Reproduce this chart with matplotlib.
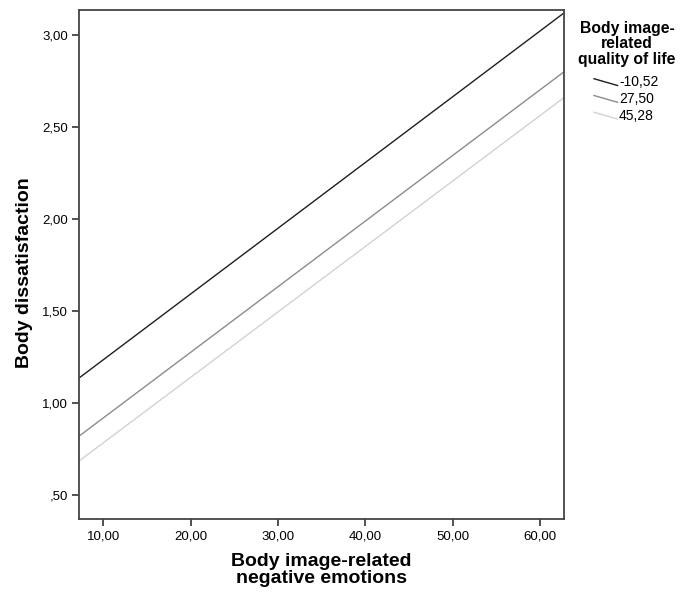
import numpy as np
import matplotlib.pyplot as plt
from matplotlib.lines import Line2D
from matplotlib.legend_handler import HandlerLine2D

plt.rcParams['font.family'] = ['Liberation Sans', 'DejaVu Sans']

# fitted lines, read at the left and right edges of the plot
x_ends = [7.22, 62.75]
groups = ["-10,52", "27,50", "45,28"]
y_ends = {
    "-10,52": [1.136, 3.12],
    "27,50": [0.82, 2.80],
    "45,28": [0.685, 2.66],
}
colors = {"-10,52": "#1e1e1e", "27,50": "#8c8c8c", "45,28": "#d2d2d2"}

x_ticks = [10, 20, 30, 40, 50, 60]
y_ticks = [0.5, 1.0, 1.5, 2.0, 2.5, 3.0]


def comma(v):
    s = "{:.2f}".format(v).replace(".", ",")
    return s[1:] if s.startswith("0") else s


class SlopeHandler(HandlerLine2D):
    def create_artists(self, legend, orig_handle, xdescent, ydescent,
                       width, height, fontsize, trans):
        ln = Line2D([-xdescent, width - xdescent],
                    [height * 0.8 - ydescent, height * 0.1 - ydescent],
                    color=orig_handle.get_color(), lw=orig_handle.get_linewidth())
        ln.set_transform(trans)
        return [ln]


fig = plt.figure(figsize=(6.9, 5.94), dpi=100)
ax = fig.add_axes([79 / 690, 1 - 519 / 594, (564 - 79) / 690, (519 - 10) / 594])

handles = []
for g in groups:
    h, = ax.plot(x_ends, y_ends[g], color=colors[g], lw=1.0)
    handles.append(h)

ax.set_xlim(7.22, 62.75)
ax.set_ylim(0.37, 3.136)
ax.set_xticks(x_ticks)
ax.set_xticklabels([comma(v) for v in x_ticks])
ax.set_yticks(y_ticks)
ax.set_yticklabels([comma(v) for v in y_ticks])
ax.tick_params(direction="out", length=5, width=1.2, labelsize=9.5, color="#333333", pad=3)
for s in ax.spines.values():
    s.set_color("#444444")
    s.set_linewidth(1.3)

ax.set_ylabel("Body dissatisfaction", fontsize=14, fontweight="bold")
ax.yaxis.set_label_coords(-0.095, 0.485)
fig.text(321 / 690, 1 - 570 / 594, "Body image-related\nnegative emotions",
         ha="center", va="center", fontsize=14, fontweight="bold", linespacing=0.95)

# legend title drawn on its own so the gap to the entries can be set
fig.text(627 / 690, 1 - 44 / 594, "Body image-\nrelated\nquality of life",
         ha="center", va="center", fontsize=11.3, fontweight="bold", linespacing=1.05)
leg = fig.legend(handles, groups, loc="upper left", bbox_to_anchor=(594 / 690, 1 - 75.5 / 594),
                 frameon=False, fontsize=10, handlelength=1.7, handletextpad=0.1,
                 labelspacing=0.2, borderpad=0, borderaxespad=0,
                 handler_map={Line2D: SlopeHandler()})

fig.savefig("out.png", dpi=100)
